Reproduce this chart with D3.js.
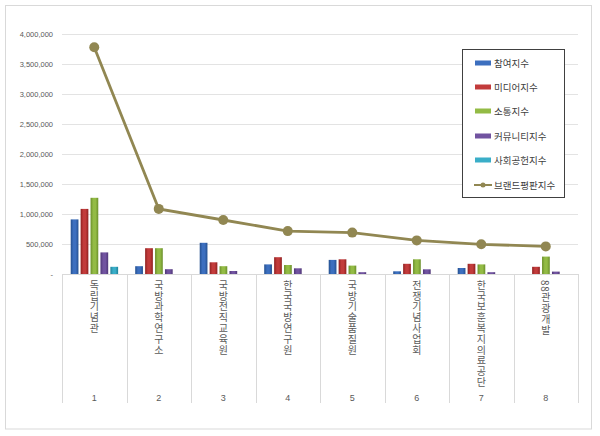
<!DOCTYPE html>
<html><head><meta charset="utf-8">
<script src="https://cdn.jsdelivr.net/npm/d3@7"></script>
<style>
html,body{margin:0;padding:0;background:#fff;}
svg{display:block;font-family:"Malgun Gothic","Noto Sans CJK KR",sans-serif;}
</style></head>
<body>
<svg id="chart" width="600" height="436"></svg>
<script>
const categories = ["독립기념관","국방과학연구소","국방전직교육원","한국국방연구원","국방기술품질원","전쟁기념사업회","한국보훈복지의료공단","88관광개발"];
const categoryNumbers = ["1","2","3","4","5","6","7","8"];
const seriesNames = ["참여지수","미디어지수","소통지수","커뮤니티지수","사회공헌지수"];
const lineName = "브랜드평판지수";
const participation = [910000,130000,520000,160000,235000,45000,100000,0];
const media = [1085000,430000,195000,280000,245000,170000,170000,120000];
const communication = [1270000,430000,130000,150000,140000,245000,160000,290000];
const community = [360000,80000,50000,95000,30000,78000,30000,40000];
const social = [120000,0,0,0,0,0,0,0];
const brandIndex = [3780000,1085000,900000,715000,690000,560000,495000,460000];
const yTicks = [0,500000,1000000,1500000,2000000,2500000,3000000,3500000,4000000];
const colors = ["#3c6fbf","#c23b3b","#93bb45","#7153a0","#3aaec8"];
const darkColors = ["#24508f","#8f2020","#6a8f2a","#4f3677","#1f8199"];
const lineColor = "#918752";

const seriesValues = [participation, media, communication, community, social];

const svg = d3.select("#chart");
const pLeft = 62, pRight = 578, pTop = 34, pBottom = 274;

// outer border
svg.append("rect").attr("x",5.5).attr("y",5.5).attr("width",586).attr("height",423.5)
  .attr("fill","#fff").attr("stroke","#d9d9d9").attr("stroke-width",1);

const y = d3.scaleLinear().domain([0,4000000]).range([pBottom, pTop]);
const x0 = d3.scaleBand().domain(categories).range([pLeft,pRight]).paddingInner(0).paddingOuter(0);
const bw = x0.bandwidth();
const x1 = d3.scaleBand().domain(seriesNames).range([bw*0.135, bw*0.87]).paddingInner(0.22).paddingOuter(0);

// gradients
const defs = svg.append("defs");
colors.forEach((c,i)=>{
  const g = defs.append("linearGradient").attr("id","g"+i).attr("x1","0").attr("x2","1").attr("y1","0").attr("y2","0");
  g.append("stop").attr("offset","0").attr("stop-color",darkColors[i]);
  g.append("stop").attr("offset","0.35").attr("stop-color",c);
  g.append("stop").attr("offset","0.65").attr("stop-color",c);
  g.append("stop").attr("offset","1").attr("stop-color",darkColors[i]);
});

// gridlines
svg.append("g").selectAll("line").data(yTicks.filter(d=>d>0)).join("line")
  .attr("x1",pLeft).attr("x2",pRight)
  .attr("y1",d=>Math.round(y(d))+0.5).attr("y2",d=>Math.round(y(d))+0.5)
  .attr("stroke","#e3e3e3").attr("stroke-width",1);

// y axis labels
const fmt = d3.format(",");
svg.append("g").selectAll("text").data(yTicks).join("text")
  .attr("x",53).attr("y",d=>y(d)+3)
  .attr("text-anchor","end").attr("font-size","7.5px").attr("fill","#595959")
  .attr("font-family","Liberation Sans, Arial, sans-serif")
  .text(d=> d===0 ? "-" : fmt(d));

// category divider lines
const bounds = categories.map(c=>x0(c)).concat([pRight]);
svg.append("g").selectAll("line").data(bounds).join("line")
  .attr("x1",d=>Math.round(d)+0.5).attr("x2",d=>Math.round(d)+0.5)
  .attr("y1",pBottom).attr("y2",403)
  .attr("stroke","#d9d9d9").attr("stroke-width",1);
// x axis line
svg.append("line").attr("x1",pLeft).attr("x2",pRight).attr("y1",pBottom+0.5).attr("y2",pBottom+0.5)
  .attr("stroke","#d9d9d9");

// bars
const groups = svg.append("g").selectAll("g").data(categories).join("g")
  .attr("transform",c=>`translate(${x0(c)},0)`);
groups.selectAll("rect").data((c,ci)=>seriesNames.map((s,si)=>({s,si,v:seriesValues[si][ci]})))
  .join("rect")
  .attr("x",d=>x1(d.s)).attr("width",x1.bandwidth())
  .attr("y",d=>y(d.v)).attr("height",d=>pBottom-y(d.v))
  .attr("fill",d=>`url(#g${d.si})`);

// line
const cx = (c)=>x0(c)+bw/2;
const lineGen = d3.line().x((d,i)=>cx(categories[i])).y(d=>y(d));
svg.append("path").datum(brandIndex).attr("d",lineGen)
  .attr("fill","none").attr("stroke",lineColor).attr("stroke-width",2.8);
svg.append("g").selectAll("circle").data(brandIndex).join("circle")
  .attr("cx",(d,i)=>cx(categories[i])).attr("cy",d=>y(d)).attr("r",5)
  .attr("fill",lineColor);

// category labels (vertical)
svg.append("g").selectAll("text").data(categories).join("text")
  .attr("x",c=>cx(c)).attr("y",280)
  .attr("font-size","10px").attr("fill","#595959")
  .attr("style","writing-mode: vertical-rl; text-orientation: mixed; letter-spacing: 0.8px;")
  .attr("text-anchor","start")
  .text(c=>c);

// numbers
svg.append("g").selectAll("text").data(categories).join("text")
  .attr("x",c=>cx(c)).attr("y",401)
  .attr("text-anchor","middle").attr("font-size","9px").attr("fill","#595959")
  .attr("font-family","Liberation Sans, Arial, sans-serif")
  .text((c,i)=>categoryNumbers[i]);

// legend
const lg = svg.append("g");
lg.append("rect").attr("x",462.5).attr("y",49.5).attr("width",102).attr("height",148)
  .attr("fill","#fff").attr("stroke","#404040").attr("stroke-width",1);
const legY = [63,87,111,136,160,185];
seriesNames.forEach((s,i)=>{
  lg.append("rect").attr("x",475).attr("y",legY[i]-2.5).attr("width",16).attr("height",5).attr("fill",colors[i]);
  lg.append("text").attr("x",494).attr("y",legY[i]+3.5).attr("font-size","9.5px").attr("fill","#404040").text(s);
});
lg.append("line").attr("x1",474).attr("x2",492).attr("y1",legY[5]).attr("y2",legY[5]).attr("stroke",lineColor).attr("stroke-width",2);
lg.append("circle").attr("cx",483).attr("cy",legY[5]).attr("r",2.5).attr("fill",lineColor);
lg.append("text").attr("x",494).attr("y",legY[5]+3.5).attr("font-size","9.5px").attr("fill","#404040").text(lineName);
</script>
</body></html>
